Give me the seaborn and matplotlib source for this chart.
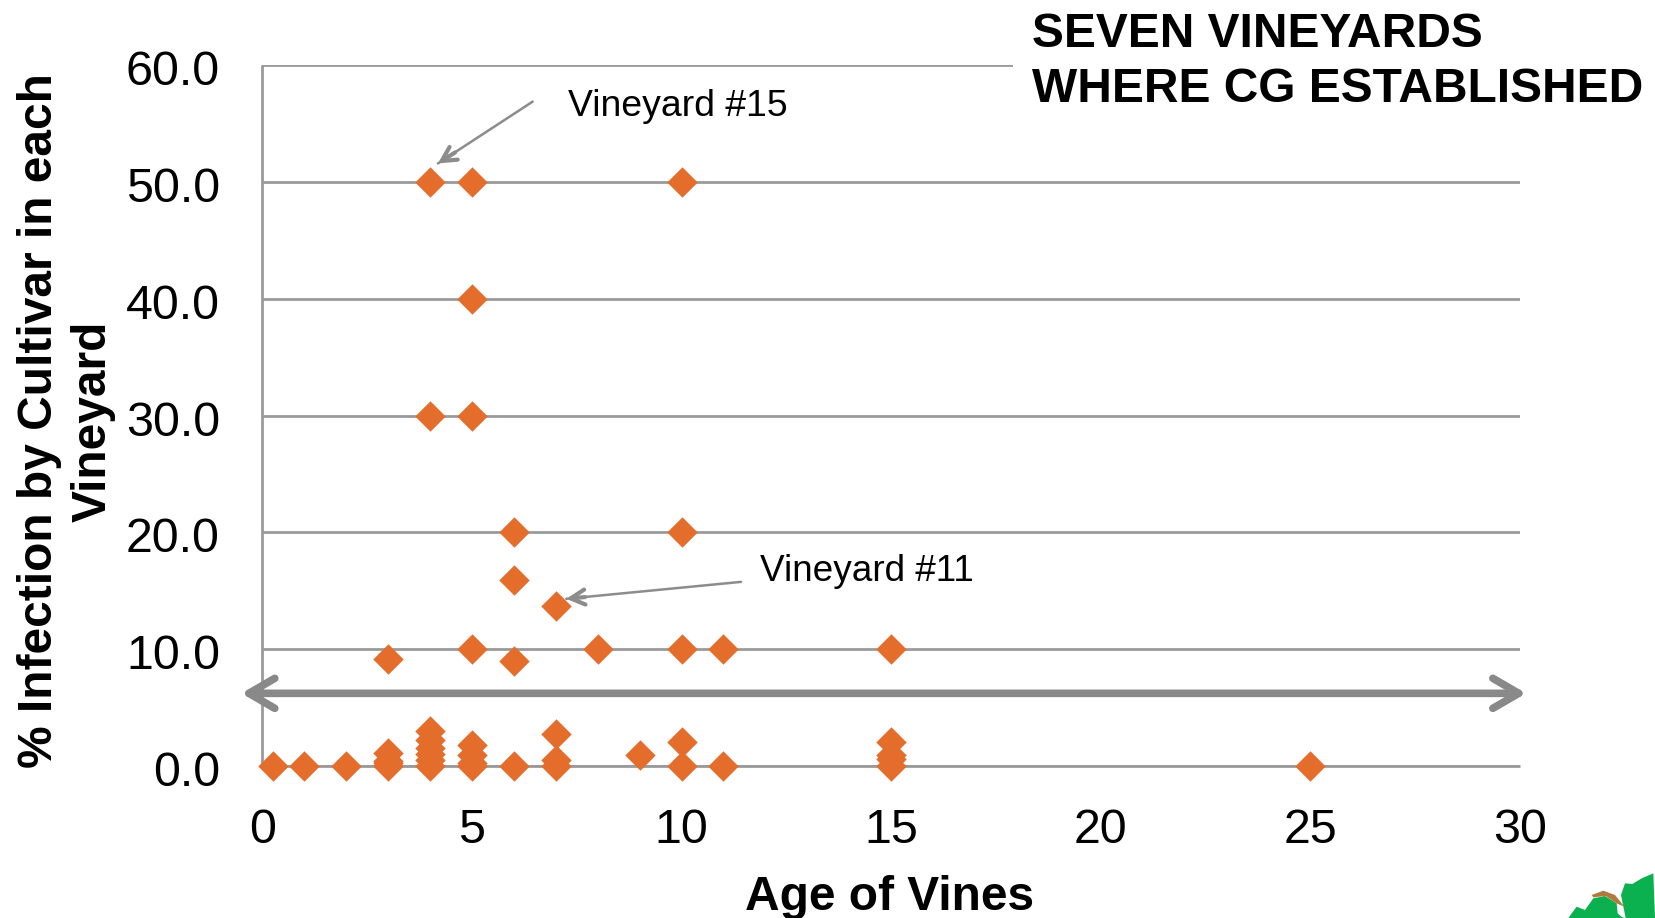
import matplotlib
matplotlib.use("Agg")
import matplotlib.pyplot as plt
from matplotlib.patches import Polygon
from matplotlib.transforms import ScaledTranslation
import pandas as pd
import seaborn as sns

age = [0.25, 1, 2, 3, 3, 3, 3, 4, 4, 4, 4, 4, 4, 5, 5, 5, 5, 6, 7, 7, 7, 9, 10, 10, 11, 15, 15, 15, 15, 25,
       3, 5, 6, 6, 6, 7, 8, 10, 10, 11, 15, 4, 5, 5, 4, 5, 10]
infection = [0, 0, 0, 0, 0.2, 0.4, 1.1, 0, 0.5, 1.0, 1.5, 2.2, 3.0, 0, 0.2, 0.9, 1.8, 0, 0, 0.45, 2.75, 0.9, 0, 2.05, 0, 0, 0.6, 0.9, 2.0, 0,
             9.1, 10, 9.0, 15.9, 20, 13.7, 10, 10, 20, 10, 10, 30, 30, 40, 50, 50, 50]

x_ticks = [0, 5, 10, 15, 20, 25, 30]
y_ticks = [0, 10, 20, 30, 40, 50, 60]
title_text = "SEVEN VINEYARDS\nWHERE CG ESTABLISHED"
x_label = "Age of Vines"
y_label = "% Infection by Cultivar in each\nVineyard"
note_15 = "Vineyard #15"
note_11 = "Vineyard #11"

df = pd.DataFrame({"age": age, "infection": infection})

sns.set_theme(style="white")
plt.rcParams["font.family"] = ["Liberation Sans", "DejaVu Sans"]

W, H = 1655, 918
fig = plt.figure(figsize=(W / 100, H / 100), dpi=100)
ax = fig.add_axes([262.3 / W, 1 - 765.7 / H, (1520 - 262.3) / W, (765.7 - 65.4) / H])

grey = "#9a9a9a"
sns.scatterplot(data=df, x="age", y="infection", marker="D", s=240, color="#e56d2b",
                linewidth=0, ax=ax, zorder=3, clip_on=False, legend=False)

ax.set_xlim(0, 30)
ax.set_ylim(0, 60)
ax.set_xticks(x_ticks)
ax.set_yticks(y_ticks)
ax.set_yticklabels([f"{v:.1f}" for v in y_ticks])
ax.tick_params(axis="both", length=0, labelsize=34.8, labelcolor="black")
ax.tick_params(axis="x", pad=30.5)
ax.tick_params(axis="y", pad=30.5)
down = ScaledTranslation(0, -1.8 / 72, fig.dpi_scale_trans)
for lab in ax.get_yticklabels():
    lab.set_transform(lab.get_transform() + down)
ax.grid(axis="y", color=grey, lw=2.0)
ax.set_axisbelow(True)
for s in ["top", "right"]:
    ax.spines[s].set_visible(False)
for s in ["bottom", "left"]:
    ax.spines[s].set_color(grey)
    ax.spines[s].set_linewidth(2.0)
    ax.spines[s].set_capstyle("butt")

ax.set_xlabel(x_label, fontsize=34.5, fontweight="bold", color="black", va="center")
ax.xaxis.set_label_coords(890 / W, 1 - 897 / H, transform=fig.transFigure)
ax.set_ylabel(y_label, fontsize=34.5, fontweight="bold", color="black", va="center", ha="center",
              linespacing=1.25, multialignment="center")
ax.yaxis.set_label_coords(66.5 / W, 1 - 421 / H, transform=fig.transFigure)

fig.text(1032 / W, 1 - 62 / H, title_text, fontsize=34.5, fontweight="bold", ha="left", va="center", linespacing=1.26,
         color="black", bbox=dict(facecolor="white", edgecolor="none", pad=13.5), zorder=5)

# wide double-headed arrow across the chart
ax.annotate("", xy=(-0.5, 6.2), xytext=(30.15, 6.2),
            arrowprops=dict(arrowstyle="<->,head_length=1.55,head_width=0.9", color="#898989", lw=5.5,
                            shrinkA=0, shrinkB=0, capstyle="round"), annotation_clip=False, zorder=4)


def callout(tip, tail, head_start):
    ax.annotate("", xy=tip, xytext=tail,
                arrowprops=dict(arrowstyle="-", color="#8c8c8c", lw=1.8, shrinkA=0, shrinkB=0), zorder=4)
    ax.annotate("", xy=tip, xytext=head_start,
                arrowprops=dict(arrowstyle="->,head_length=0.85,head_width=0.45", color="#8c8c8c", lw=3.0,
                                shrinkA=0, shrinkB=0, capstyle="round"), zorder=4)


callout((4.19, 51.6), (6.45, 56.9), (4.6, 52.55))
callout((7.25, 14.3), (11.42, 15.75), (7.7, 14.45))
ax.text(7.3, 56.45, note_15, fontsize=26.9, va="center", ha="left", color="black")
ax.text(11.87, 16.65, note_11, fontsize=26.6, va="center", ha="left", color="black")

# clip-art leaf peeking in at the lower right corner (figure pixels)
leaf = [(100, 174), (125, 140), (150, 150), (175, 115), (210, 108), (245, 130), (248, 160), (262, 172),
        (272, 174), (258, 105), (270, 70), (292, 72), (320, 55), (355, 40), (360, 174)]
stem = [(170, 105), (205, 92), (240, 105), (268, 140), (245, 130), (212, 108), (175, 112)]


def to_fig(pts):
    return [((1535 + x / 3) / W, 1 - (860 + y / 3) / H) for x, y in pts]


fig.add_artist(Polygon(to_fig(leaf), closed=True, facecolor="#0bb04f", edgecolor="none"))
fig.add_artist(Polygon(to_fig(stem), closed=True, facecolor="#b0793f", edgecolor="none"))

fig.savefig("out.png", dpi=100)
